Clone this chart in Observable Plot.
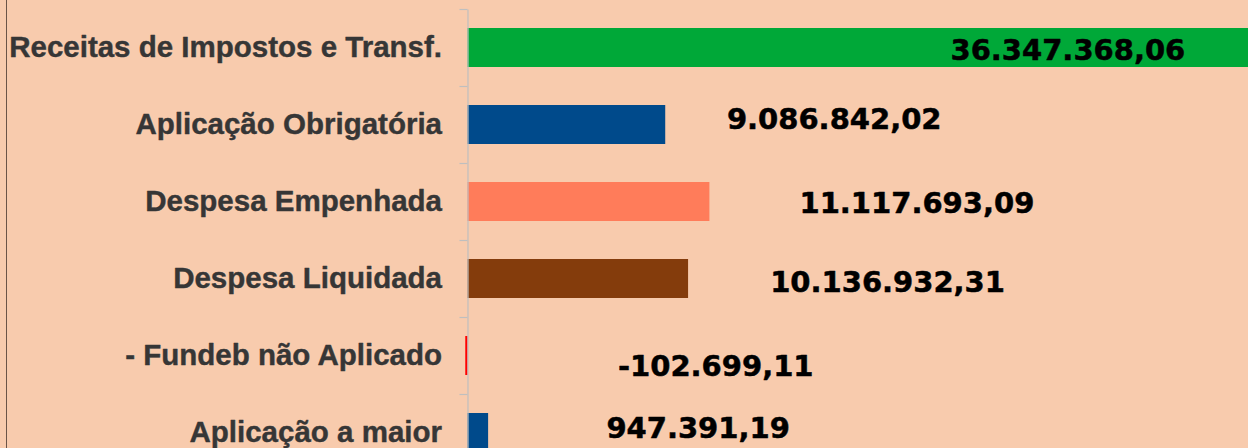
<!DOCTYPE html>
<html><head><meta charset="utf-8">
<script src="https://cdn.jsdelivr.net/npm/d3@7"></script>
<script src="https://cdn.jsdelivr.net/npm/@observablehq/plot@0.6"></script>
<style>
html,body{margin:0;padding:0;background:#F8CBAD;overflow:hidden;}
#wrap{position:relative;width:1248px;height:448px;overflow:hidden;}
#wrap svg{overflow:hidden;display:block;}
#edge{position:absolute;left:6px;top:0;width:1px;height:448px;background:#6b5447;}
</style></head><body><div id="wrap"><div id="edge"></div></div>
<script>
const categories = [
  "Receitas de Impostos e Transf.",
  "Aplicação Obrigatória",
  "Despesa Empenhada",
  "Despesa Liquidada",
  "- Fundeb não Aplicado",
  "Aplicação a maior"
];
const values = [36347368.06, 9086842.02, 11117693.09, 10136932.31, -102699.11, 947391.19];
const colors = ["#00A838", "#004A8B", "#FF7C5A", "#843C0C", "#FF0000", "#004A8B"];

const fmt = d3.formatLocale({decimal: ",", thousands: ".", grouping: [3], currency: ["", ""], minus: "-"}).format(",.2f");
const data = categories.map((c, i) => ({category: c, value: values[i], color: colors[i], label: fmt(values[i])}));

// layout
const xMax = 35.87e6;
const pxPerUnit = (1248 - 467.5) / xMax;
const labelDx = [-191, 168.5, 207, 199, 250, 209.5];
const labelDy = [2.8, -5.2, 1.8, 3.3, 10.3, -4.2];

const chart = Plot.plot({
  width: 1248, height: 448,
  marginLeft: 467.5, marginRight: 0, marginTop: 9.5, marginBottom: 0,
  style: {background: "#F8CBAD", overflow: "hidden"},
  x: {domain: [0, xMax], axis: null},
  y: {domain: categories, range: [9.5, 471.5], paddingInner: 0.49, paddingOuter: 0.245, axis: null},
  marks: [
    Plot.barX(data, {x: "value", y: "category", fill: "color"}),
    Plot.ruleX([0], {stroke: "#BFBFBF", strokeWidth: 1.2}),
    Plot.ruleY(categories, {y: d => d, x1: 0, x2: -8 / pxPerUnit, dy: -38.5, stroke: "#BFBFBF", strokeWidth: 1.2}),
    Plot.text(data, {x: 0, y: "category", text: "category", dx: -26, textAnchor: "end", lineAnchor: "middle",
      fontSize: 29.5, fontWeight: "bold", fill: "#363636", stroke: "#363636", strokeWidth: 0.4,
      fontFamily: "Liberation Sans, Arial, sans-serif"}),
    ...data.map((d, i) => Plot.text([d], {x: "value", y: "category", text: "label", dx: labelDx[i], dy: labelDy[i],
      textAnchor: "middle", lineAnchor: "middle", fontSize: 29, fontWeight: "bold", fill: "#000000",
      stroke: "#000000", strokeWidth: 0.5,
      fontFamily: "DejaVu Sans, Verdana, sans-serif"}))
  ]
});
document.getElementById("wrap").prepend(chart);
</script>
</body></html>
